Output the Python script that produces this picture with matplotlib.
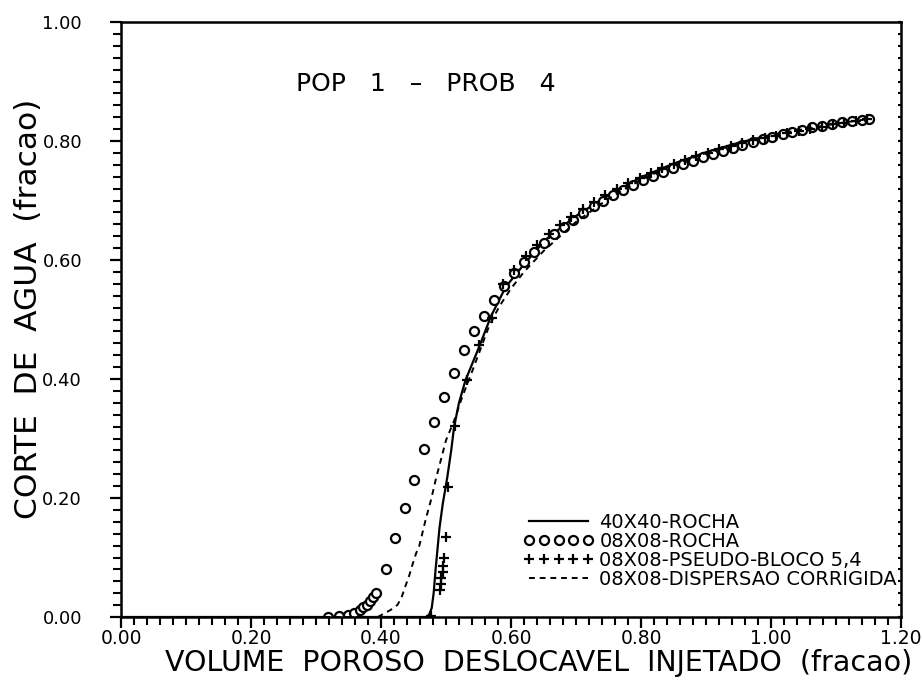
import matplotlib
matplotlib.use("Agg")
import matplotlib.pyplot as plt
from matplotlib.ticker import MultipleLocator, FormatStrFormatter

plt.rcParams['font.family'] = ['DejaVu Sans']
plt.rcParams['xtick.labelsize'] = 13.5
plt.rcParams['ytick.labelsize'] = 13

# 40X40-ROCHA (fine grid reference)
rocha40_x = [0.000, 0.470, 0.474, 0.478, 0.481, 0.484, 0.487, 0.490, 0.495, 0.502,
             0.508, 0.5125, 0.520, 0.530, 0.551, 0.569, 0.592, 0.621, 0.653, 0.700,
             0.750, 0.800, 0.850, 0.900, 0.950, 1.000, 1.050, 1.100, 1.150]
rocha40_y = [0.000, 0.000, 0.004, 0.015, 0.040, 0.080, 0.115, 0.150, 0.190, 0.235,
             0.280, 0.320, 0.360, 0.398, 0.454, 0.505, 0.555, 0.594, 0.634, 0.674,
             0.709, 0.739, 0.762, 0.781, 0.797, 0.810, 0.821, 0.830, 0.839]

# 08X08-ROCHA (coarse grid, rock curves)
rocha08_x = [0.318, 0.335, 0.349, 0.359, 0.367, 0.373, 0.378, 0.383, 0.387, 0.392,
             0.407, 0.422, 0.437, 0.451, 0.466, 0.482, 0.497, 0.513, 0.528, 0.543,
             0.558, 0.574, 0.589, 0.604, 0.620, 0.635, 0.650, 0.666, 0.681, 0.696,
             0.711, 0.727, 0.742, 0.757, 0.773, 0.788, 0.803, 0.819, 0.834, 0.849,
             0.865, 0.880, 0.895, 0.911, 0.926, 0.941, 0.956, 0.972, 0.987, 1.002,
             1.018, 1.033, 1.048, 1.063, 1.079, 1.094, 1.109, 1.125, 1.140, 1.150]
rocha08_y = [0.000, 0.002, 0.004, 0.007, 0.011, 0.016, 0.021, 0.027, 0.033, 0.041,
             0.080, 0.132, 0.183, 0.230, 0.282, 0.327, 0.369, 0.410, 0.448, 0.480,
             0.506, 0.533, 0.557, 0.578, 0.597, 0.614, 0.629, 0.643, 0.656, 0.668,
             0.679, 0.690, 0.700, 0.709, 0.718, 0.726, 0.734, 0.741, 0.748, 0.755,
             0.761, 0.767, 0.773, 0.778, 0.784, 0.789, 0.794, 0.798, 0.803, 0.807,
             0.811, 0.815, 0.819, 0.823, 0.826, 0.829, 0.832, 0.834, 0.836, 0.837]

# 08X08-PSEUDO-BLOCO 5,4
pseudo_x = [0.477, 0.490, 0.492, 0.493, 0.495, 0.496, 0.497, 0.500, 0.503, 0.514,
            0.533, 0.551, 0.570, 0.588, 0.605, 0.623, 0.640, 0.658, 0.675, 0.693,
            0.710, 0.728, 0.745, 0.763, 0.780, 0.798, 0.815, 0.833, 0.850, 0.868,
            0.885, 0.903, 0.920, 0.938, 0.955, 0.973, 0.990, 1.008, 1.025, 1.043,
            1.060, 1.078, 1.095, 1.113, 1.130, 1.148]
pseudo_y = [0.002, 0.045, 0.055, 0.065, 0.075, 0.085, 0.099, 0.135, 0.218, 0.321,
            0.398, 0.457, 0.502, 0.560, 0.584, 0.606, 0.625, 0.643, 0.659, 0.673,
            0.686, 0.698, 0.709, 0.719, 0.729, 0.738, 0.746, 0.754, 0.761, 0.768,
            0.774, 0.780, 0.786, 0.791, 0.796, 0.801, 0.805, 0.809, 0.813, 0.817,
            0.821, 0.824, 0.828, 0.831, 0.834, 0.837]

# 08X08-DISPERSAO CORRIGIDA
disp_x = [0.000, 0.395, 0.400, 0.415, 0.425, 0.431, 0.437, 0.4435, 0.449, 0.454,
          0.459, 0.469, 0.477, 0.484, 0.500, 0.5125, 0.525, 0.541, 0.566, 0.582,
          0.600, 0.620, 0.650, 0.700, 0.750, 0.800, 0.850, 0.900, 0.950, 1.000,
          1.050, 1.100, 1.150]
disp_y = [0.000, 0.000, 0.003, 0.012, 0.020, 0.031, 0.050, 0.070, 0.090, 0.107,
          0.120, 0.165, 0.197, 0.230, 0.297, 0.330, 0.370, 0.415, 0.488, 0.522,
          0.552, 0.580, 0.615, 0.664, 0.703, 0.735, 0.760, 0.780, 0.796, 0.809,
          0.820, 0.829, 0.837]

labels = ["40X40-ROCHA", "08X08-ROCHA", "08X08-PSEUDO-BLOCO 5,4",
          "08X08-DISPERSAO CORRIGIDA"]

fig = plt.figure(figsize=(9.22, 6.87), dpi=100)
W, H = 922, 687
x0, x1, y0, y1 = 121, 901, 617, 22
ax = fig.add_axes([x0 / W, 1 - y0 / H, (x1 - x0) / W, (y0 - y1) / H])


def ax_x(px):
    return (px - x0) / (x1 - x0)


def ax_y(py):
    return (y0 - py) / (y0 - y1)


h1, = ax.plot(rocha40_x, rocha40_y, color='black', lw=1.6, label=labels[0])
h2, = ax.plot(rocha08_x, rocha08_y, ls='none', marker='o', ms=6.5, mfc='white',
              mec='black', mew=1.6, label=labels[1])
h3, = ax.plot(pseudo_x, pseudo_y, ls='none', marker='+', ms=7, mec='black',
              mew=1.6, label=labels[2])
h4, = ax.plot(disp_x, disp_y, color='black', lw=1.4, ls=(0, (3, 2.5)),
              label=labels[3])

ax.set_xlim(0, 1.2)
ax.set_ylim(0, 1.0)
ax.xaxis.set_major_locator(MultipleLocator(0.2))
ax.xaxis.set_minor_locator(MultipleLocator(0.02))
ax.yaxis.set_major_locator(MultipleLocator(0.2))
ax.yaxis.set_minor_locator(MultipleLocator(0.02))
ax.xaxis.set_major_formatter(FormatStrFormatter('%.2f'))
ax.yaxis.set_major_formatter(FormatStrFormatter('%.2f'))

for s in ax.spines.values():
    s.set_linewidth(1.8)

ax.tick_params(which='major', direction='out', length=8, width=1.6)
ax.tick_params(which='minor', direction='out', length=6, width=1.5)
ax.tick_params(axis='x', which='major', pad=1)
ax.tick_params(axis='y', which='major', pad=20)
ax.tick_params(axis='y', which='both', right=True, labelright=False)
for t in ax.yaxis.get_ticklines(minor=True)[1::2] + ax.yaxis.get_ticklines()[1::2]:
    t.set_markersize(2)
    t.set_marker(0)

ax.set_xlabel("VOLUME  POROSO  DESLOCAVEL  INJETADO  (fracao)", fontsize=20.5)
ax.xaxis.set_label_coords(ax_x(539), ax_y(663))
ax.xaxis.label.set_va('center')
ax.set_ylabel("CORTE  DE  AGUA  (fracao)", fontsize=22.5)
ax.yaxis.set_label_coords(ax_x(29), ax_y(309))
ax.yaxis.label.set_va('center')

ax.text(ax_x(296), ax_y(84), "POP   1   \u2013   PROB   4",
        transform=ax.transAxes, fontsize=18, va='center', ha='left')

leg = ax.legend(handles=[h1, h2, h3, h4], loc='lower right',
                bbox_to_anchor=(897 / W, 1 - 589 / H),
                bbox_transform=fig.transFigure, frameon=False, fontsize=14,
                numpoints=5, handlelength=3.6, handletextpad=0.3,
                labelspacing=0.0, borderpad=0, borderaxespad=0)

fig.savefig("out.png", dpi=100)
